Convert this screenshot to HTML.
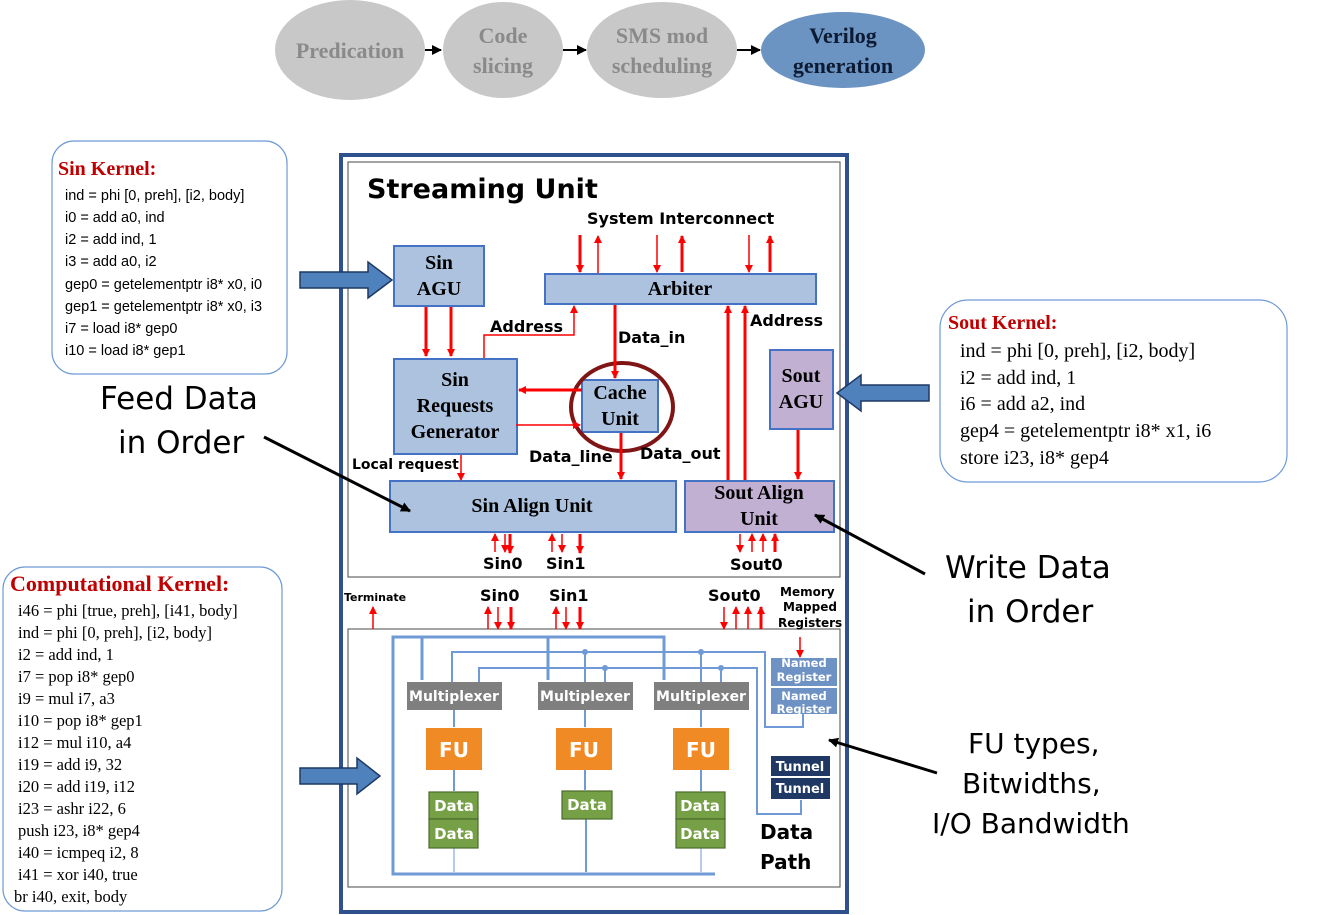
<!DOCTYPE html>
<html><head><meta charset="utf-8"><style>
html,body{margin:0;padding:0;background:#fff;}
svg{display:block;}
.b{font-family:"Liberation Serif",serif;font-weight:bold;}
.s{font-family:"DejaVu Sans","Liberation Sans",sans-serif;font-weight:bold;}
.n{font-family:"Liberation Sans Narrow","Liberation Sans",sans-serif;}
</style></head><body>
<svg width="1337" height="915" viewBox="0 0 1337 915" xmlns="http://www.w3.org/2000/svg">
<defs>
<marker id="ar" markerWidth="8" markerHeight="8" refX="7" refY="4" orient="auto" markerUnits="userSpaceOnUse"><path d="M0,0 L8,4 L0,8 Z" fill="#f00"/></marker>
<marker id="ak" markerWidth="10" markerHeight="10" refX="9" refY="5" orient="auto" markerUnits="userSpaceOnUse"><path d="M0,0 L10,5 L0,10 Z" fill="#000"/></marker>
</defs>

<!-- top pipeline -->
<ellipse cx="350" cy="50" rx="75" ry="50" fill="#c8c8c8"/>
<ellipse cx="503" cy="50" rx="60" ry="48" fill="#c8c8c8"/>
<ellipse cx="662" cy="50" rx="75" ry="48" fill="#c8c8c8"/>
<ellipse cx="843" cy="50" rx="82" ry="38" fill="#6b94c2"/>
<g class="b" font-size="22" text-anchor="middle" fill="#8a8a8a">
<text x="350" y="58">Predication</text>
<text x="503" y="43">Code</text><text x="503" y="73">slicing</text>
<text x="662" y="43">SMS mod</text><text x="662" y="73">scheduling</text>
</g>
<g class="b" font-size="22" text-anchor="middle" fill="#0d1a33">
<text x="843" y="43">Verilog</text><text x="843" y="73">generation</text></g>
<g stroke="#000" stroke-width="2" marker-end="url(#ak)">
<line x1="425" y1="50" x2="441" y2="50"/><line x1="563" y1="50" x2="586" y2="50"/><line x1="737" y1="50" x2="760" y2="50"/></g>

<!-- Sin Kernel -->
<rect x="52" y="141" width="235" height="233" rx="22" fill="#fff" stroke="#6f9ad6" stroke-width="1.2"/>
<text x="58" y="175" class="b" font-size="20" fill="#c00000">Sin Kernel:</text>
<g class="n" font-size="14.5" fill="#000">
<text x="65" y="200">ind  = phi [0, preh], [i2, body]</text>
<text x="65" y="222">i0   = add a0, ind</text>
<text x="65" y="244">i2   = add ind, 1</text>
<text x="65" y="266">i3   = add a0, i2</text>
<text x="65" y="289">gep0 = getelementptr i8* x0, i0</text>
<text x="65" y="311">gep1 = getelementptr i8* x0, i3</text>
<text x="65" y="333">i7   = load i8* gep0</text>
<text x="65" y="355">i10  = load i8* gep1</text></g>

<!-- Sout Kernel -->
<rect x="940" y="300" width="347" height="182" rx="28" fill="#fff" stroke="#6f9ad6" stroke-width="1.2"/>
<text x="948" y="329" class="b" font-size="20" fill="#c00000">Sout Kernel:</text>
<g font-family="Liberation Serif,serif" font-size="20" fill="#000">
<text x="960" y="357">ind  = phi [0, preh], [i2, body]</text>
<text x="960" y="384">i2   = add ind, 1</text>
<text x="960" y="410">i6   = add a2, ind</text>
<text x="960" y="437">gep4 = getelementptr i8* x1, i6</text>
<text x="960" y="464">store i23, i8* gep4</text></g>

<!-- Computational Kernel -->
<rect x="3" y="567" width="279" height="344" rx="22" fill="#fff" stroke="#6f9ad6" stroke-width="1.2"/>
<text x="10" y="591" class="b" font-size="22" fill="#c00000">Computational Kernel:</text>
<g font-family="Liberation Serif,serif" font-size="16.5" fill="#000">
<text x="18" y="616">i46  = phi [true, preh], [i41, body]</text>
<text x="18" y="638">ind  = phi [0, preh], [i2, body]</text>
<text x="18" y="660">i2   = add ind, 1</text>
<text x="18" y="682">i7   = pop i8* gep0</text>
<text x="18" y="704">i9   = mul i7, a3</text>
<text x="18" y="726">i10  = pop i8* gep1</text>
<text x="18" y="748">i12  = mul i10, a4</text>
<text x="18" y="770">i19  = add i9, 32</text>
<text x="18" y="792">i20  = add i19, i12</text>
<text x="18" y="814">i23  = ashr i22, 6</text>
<text x="18" y="836">push  i23, i8* gep4</text>
<text x="18" y="858">i40  = icmpeq i2, 8</text>
<text x="18" y="880">i41  = xor i40, true</text>
<text x="14" y="902">br i40, exit, body</text></g>

<!-- Streaming Unit frame -->
<rect x="341" y="155" width="506" height="757" fill="#fff" stroke="#2f528f" stroke-width="4"/>
<rect x="348" y="162" width="492" height="415" fill="#fff" stroke="#666" stroke-width="1.2"/>
<rect x="348" y="629" width="492" height="258" fill="#fff" stroke="#666" stroke-width="1.2"/>
<text x="367" y="198" class="s" font-size="27" fill="#000">Streaming Unit</text>
<text x="587" y="224" class="s" font-size="16" fill="#000">System Interconnect</text>

<!-- big blue arrows -->
<g fill="#4f81bd" stroke="#1f3864" stroke-width="1.5">
<path d="M300,272 L368,272 L368,262 L392,280 L368,298 L368,288 L300,288 Z"/>
<path d="M929,385 L861,385 L861,375 L837,393 L861,411 L861,401 L929,401 Z"/>
<path d="M300,768 L357,768 L357,758 L380,776 L357,794 L357,784 L300,784 Z"/>
</g>

<!-- boxes -->
<g stroke="#4472c4" stroke-width="2">
<rect x="394" y="246" width="90" height="60" fill="#adc2de"/>
<rect x="545" y="274" width="271" height="30" fill="#adc2de"/>
<rect x="394" y="359" width="123" height="95" fill="#adc2de"/>
<rect x="582" y="380" width="76" height="52" fill="#adc2de"/>
<rect x="390" y="481" width="286" height="51" fill="#adc2de"/>
<rect x="685" y="481" width="149" height="51" fill="#c2b0d2"/>
<rect x="770" y="350" width="63" height="79" fill="#c2b0d2"/>
</g>
<g class="b" font-size="20" text-anchor="middle" fill="#000">
<text x="439" y="269">Sin</text><text x="439" y="295">AGU</text>
<text x="680" y="295">Arbiter</text>
<text x="455" y="386">Sin</text><text x="455" y="412">Requests</text><text x="455" y="438">Generator</text>
<text x="620" y="399">Cache</text><text x="620" y="425">Unit</text>
<text x="532" y="512">Sin Align Unit</text>
<text x="759" y="499">Sout Align</text><text x="759" y="525">Unit</text>
<text x="801" y="382">Sout</text><text x="801" y="408">AGU</text>
</g>
<ellipse cx="622" cy="407" rx="51" ry="44" fill="none" stroke="#7f1515" stroke-width="4"/>

<!-- red arrows upper -->
<g stroke="#f00" fill="none" stroke-width="1.5" marker-end="url(#ar)">
<line x1="598" y1="273" x2="598" y2="236"/>
<line x1="657" y1="235" x2="657" y2="272"/>
<line x1="749" y1="235" x2="749" y2="272"/>
<line x1="516" y1="425" x2="580" y2="425"/>
<line x1="740" y1="534" x2="740" y2="552"/>
<line x1="495" y1="552" x2="495" y2="534"/><line x1="505" y1="534" x2="505" y2="552"/>
<line x1="552" y1="552" x2="552" y2="534"/><line x1="562" y1="534" x2="562" y2="552"/>
<line x1="752" y1="552" x2="752" y2="534"/><line x1="763" y1="552" x2="763" y2="534"/>
<line x1="461" y1="455" x2="461" y2="480"/>
<polyline points="484,358 484,335 574,335 574,306"/>
</g>
<g stroke="#f00" fill="none" stroke-width="3" marker-end="url(#ar)">
<line x1="580" y1="235" x2="580" y2="272"/>
<line x1="682" y1="272" x2="682" y2="236"/>
<line x1="770" y1="272" x2="770" y2="236"/>
<line x1="426" y1="307" x2="426" y2="356"/>
<line x1="451" y1="307" x2="451" y2="356"/>
<line x1="615" y1="305" x2="615" y2="378"/>
<line x1="582" y1="390" x2="519" y2="390"/>
<line x1="621" y1="433" x2="621" y2="479"/>
<line x1="728" y1="480" x2="728" y2="306"/>
<line x1="745" y1="480" x2="745" y2="306"/>
<line x1="798" y1="430" x2="798" y2="479"/>
<line x1="510" y1="534" x2="510" y2="553"/>
<line x1="580" y1="534" x2="580" y2="553"/>
<line x1="775" y1="552" x2="775" y2="534"/>
</g>
<g class="s" font-size="16" fill="#000">
<text x="490" y="332">Address</text>
<text x="750" y="326">Address</text>
<text x="618" y="343">Data_in</text>
<text x="529" y="462">Data_line</text>
<text x="640" y="459">Data_out</text>
<text x="352" y="469" font-size="14">Local request</text>
<text x="483" y="569">Sin0</text><text x="546" y="569">Sin1</text><text x="730" y="570">Sout0</text>
<text x="480" y="601">Sin0</text><text x="549" y="601">Sin1</text><text x="708" y="601">Sout0</text>
<text x="344" y="601" font-size="11">Terminate</text>
<text x="780" y="596" font-size="12">Memory</text>
<text x="783" y="611" font-size="12">Mapped</text>
<text x="778" y="627" font-size="12">Registers</text>
</g>

<!-- lower red arrows -->
<g stroke="#f00" fill="none" stroke-width="1.5" marker-end="url(#ar)">
<line x1="373" y1="629" x2="373" y2="607"/>
<line x1="488" y1="629" x2="488" y2="607"/><line x1="498" y1="607" x2="498" y2="629"/>
<line x1="556" y1="629" x2="556" y2="607"/><line x1="566" y1="607" x2="566" y2="629"/>
<line x1="724" y1="607" x2="724" y2="629"/><line x1="736" y1="629" x2="736" y2="607"/><line x1="748" y1="629" x2="748" y2="607"/>
<line x1="800" y1="637" x2="800" y2="657"/>
</g>
<g stroke="#f00" fill="none" stroke-width="3" marker-end="url(#ar)">
<line x1="511" y1="607" x2="511" y2="629"/><line x1="580" y1="607" x2="580" y2="629"/><line x1="761" y1="629" x2="761" y2="607"/>
</g>

<!-- datapath wiring -->
<g stroke="#6f9ad6" fill="none" stroke-width="3">
<polyline points="715,874 393,874 393,637 664,637 664,680"/>
<line x1="422" y1="637" x2="422" y2="680"/>
<line x1="548" y1="637" x2="548" y2="680"/>
</g>
<g stroke="#6f9ad6" fill="none" stroke-width="2">
<polyline points="452,682 452,652 765,652 765,727 803,727 803,714"/>
<polyline points="479,682 479,668 757,668 757,814 801,814 801,800"/>
<line x1="585" y1="652" x2="585" y2="682"/><line x1="605" y1="668" x2="605" y2="682"/>
<line x1="701" y1="652" x2="701" y2="682"/><line x1="721" y1="668" x2="721" y2="682"/>
<line x1="454" y1="710" x2="454" y2="727"/><line x1="585" y1="710" x2="585" y2="727"/><line x1="701" y1="710" x2="701" y2="727"/>
<line x1="454" y1="770" x2="454" y2="791"/><line x1="585" y1="770" x2="585" y2="790"/><line x1="701" y1="770" x2="701" y2="791"/>
<line x1="586" y1="819" x2="586" y2="872"/>
</g>
<g stroke="#6f9ad6" stroke-width="1" fill="none">
<line x1="454" y1="848" x2="454" y2="872"/><line x1="701" y1="848" x2="701" y2="872"/></g>
<g fill="#6f9ad6"><circle cx="585" cy="652" r="3"/><circle cx="605" cy="668" r="3"/><circle cx="701" cy="652" r="3"/><circle cx="721" cy="668" r="3"/></g>

<g fill="#7f7f7f"><rect x="407" y="682" width="95" height="28"/><rect x="538" y="682" width="95" height="28"/><rect x="654" y="682" width="95" height="28"/></g>
<g class="s" font-size="14" fill="#fff" text-anchor="middle">
<text x="454" y="701">Multiplexer</text><text x="585" y="701">Multiplexer</text><text x="701" y="701">Multiplexer</text></g>
<g fill="#f08a24"><rect x="426" y="728" width="56" height="42"/><rect x="556" y="728" width="56" height="42"/><rect x="673" y="728" width="56" height="42"/></g>
<g class="s" font-size="20" fill="#fff" text-anchor="middle"><text x="454" y="757">FU</text><text x="584" y="757">FU</text><text x="701" y="757">FU</text></g>
<g fill="#76a046" stroke="#4a6a2a" stroke-width="1.2">
<rect x="429" y="792" width="49" height="27"/><rect x="429" y="819" width="49" height="29"/>
<rect x="562" y="791" width="50" height="28"/>
<rect x="676" y="792" width="49" height="27"/><rect x="676" y="819" width="49" height="29"/></g>
<g class="s" font-size="15" fill="#fff" text-anchor="middle">
<text x="454" y="811">Data</text><text x="454" y="839">Data</text><text x="587" y="810">Data</text>
<text x="700" y="811">Data</text><text x="700" y="839">Data</text></g>
<g fill="#6f92c4"><rect x="771" y="658" width="66" height="28"/><rect x="771" y="688" width="66" height="26"/></g>
<g class="s" font-size="11.5" fill="#fff" text-anchor="middle" font-weight="normal">
<text x="804" y="667">Named</text><text x="804" y="681">Register</text><text x="804" y="700">Named</text><text x="804" y="713">Register</text></g>
<g fill="#1f3864"><rect x="771" y="756" width="59" height="20"/><rect x="771" y="778" width="59" height="21"/></g>
<g class="s" font-size="13" fill="#fff" text-anchor="middle" font-weight="normal"><text x="800" y="771">Tunnel</text><text x="800" y="793">Tunnel</text></g>
<g class="s" font-size="20" fill="#000"><text x="760" y="839">Data</text><text x="760" y="869">Path</text></g>

<!-- annotations -->
<g font-family="DejaVu Sans,Liberation Sans,sans-serif" font-size="31" fill="#000">
<text x="100" y="409">Feed Data</text><text x="118" y="453">in Order</text>
<text x="945" y="578">Write Data</text><text x="967" y="622">in Order</text>
<text x="968" y="753" font-size="28">FU types,</text>
<text x="962" y="793" font-size="28">Bitwidths,</text>
<text x="932" y="833" font-size="28">I/O Bandwidth</text></g>
<g stroke="#000" stroke-width="3" marker-end="url(#ak)">
<line x1="264" y1="437" x2="410" y2="511"/>
<line x1="925" y1="574" x2="815" y2="515"/>
<line x1="937" y1="773" x2="829" y2="740"/></g>
</svg>
</body></html>
